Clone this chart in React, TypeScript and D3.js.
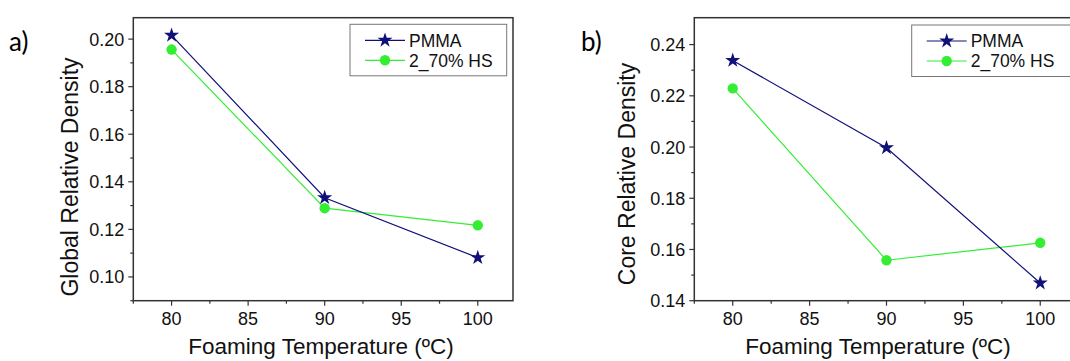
import React from "react";
import * as d3 from "d3";

const temperatures = [80, 90, 100];
const globalPMMA = [0.2016, 0.1333, 0.1081];
const globalHS = [0.1956, 0.1289, 0.1217];
const corePMMA = [0.2338, 0.1997, 0.1469];
const coreHS = [0.2229, 0.1558, 0.1626];

const xMajorTicks = [80, 85, 90, 95, 100];
const xMinorTicks = [77.5, 82.5, 87.5, 92.5, 97.5];
const globalMajorTicks = [0.1, 0.12, 0.14, 0.16, 0.18, 0.2];
const globalMinorTicks = [0.09, 0.11, 0.13, 0.15, 0.17, 0.19];
const coreMajorTicks = [0.14, 0.16, 0.18, 0.2, 0.22, 0.24];
const coreMinorTicks = [0.15, 0.17, 0.19, 0.21, 0.23];

const seriesNames = ["PMMA", "2_70% HS"];
const xTitle = "Foaming Temperature (\u00BAC)";

const NAVY = "#10107a";
const GREEN = "#33ee33";
const FONT = "'Liberation Sans', Arial, sans-serif";

type PanelProps = {
  left: number;
  right: number;
  top: number;
  bottom: number;
  xDomain: [number, number];
  yDomain: [number, number];
  yMajor: number[];
  yMinor: number[];
  pmma: number[];
  hs: number[];
  yTitle: string;
  yTitleX: number;
  yTitleY: number;
  xTitleX: number;
  label: string;
  labelX: number;
  legendX: number;
  legendW: number;
  legendY: number;
};

function Panel(p: PanelProps) {
  const x = d3.scaleLinear().domain(p.xDomain).range([p.left, p.right]);
  const y = d3.scaleLinear().domain(p.yDomain).range([p.bottom, p.top]);
  const line = d3
    .line<number>()
    .x((_, i) => x(temperatures[i]))
    .y((d) => y(d));
  const star = d3.symbol().type(d3.symbolStar).size(70)() as string;
  const fmt = d3.format(".2f");
  const frameColor = "#333";
  const lx = p.legendX;
  const ly = p.legendY;
  return (
    <g>
      <text x={p.labelX} y={51} fontFamily="Lato, 'Open Sans', sans-serif" fontSize={26} fill="#000">
        {p.label}
      </text>
      {/* data */}
      <path d={line(p.hs) || ""} fill="none" stroke={GREEN} strokeWidth={1.2} />
      <path d={line(p.pmma) || ""} fill="none" stroke={NAVY} strokeWidth={1.2} />
      {p.hs.map((v, i) => (
        <circle key={"c" + i} cx={x(temperatures[i])} cy={y(v)} r={5.2} fill={GREEN} />
      ))}
      {p.pmma.map((v, i) => (
        <path key={"s" + i} d={star} transform={`translate(${x(temperatures[i])},${y(v)})`} fill={NAVY} />
      ))}
      {/* frame */}
      <rect x={p.left} y={p.top} width={p.right - p.left} height={p.bottom - p.top} fill="none" stroke={frameColor} strokeWidth={1.5} />
      {/* x ticks */}
      {xMajorTicks.map((t) => (
        <g key={"xm" + t}>
          <line x1={x(t)} x2={x(t)} y1={p.bottom} y2={p.bottom + 5} stroke={frameColor} strokeWidth={1.2} />
          <text x={x(t)} y={p.bottom + 24.5} textAnchor="middle" fontFamily={FONT} fontSize={18} fill="#111">
            {t}
          </text>
        </g>
      ))}
      {xMinorTicks
        .filter((t) => t >= p.xDomain[0] && t <= p.xDomain[1])
        .map((t) => (
          <line key={"xn" + t} x1={x(t)} x2={x(t)} y1={p.bottom} y2={p.bottom + 3} stroke={frameColor} strokeWidth={1.2} />
        ))}
      {/* y ticks */}
      {p.yMajor.map((t) => (
        <g key={"ym" + t}>
          <line x1={p.left - 5} x2={p.left} y1={y(t)} y2={y(t)} stroke={frameColor} strokeWidth={1.2} />
          <text x={p.left - 9} y={y(t)} dy="0.36em" textAnchor="end" fontFamily={FONT} fontSize={18} fill="#111">
            {fmt(t)}
          </text>
        </g>
      ))}
      {p.yMinor
        .filter((t) => t >= p.yDomain[0] && t <= p.yDomain[1])
        .map((t) => (
          <line key={"yn" + t} x1={p.left - 3} x2={p.left} y1={y(t)} y2={y(t)} stroke={frameColor} strokeWidth={1.2} />
        ))}
      {/* titles */}
      <text x={p.xTitleX} y={354} textAnchor="middle" fontFamily={FONT} fontSize={22.5} fill="#111">
        {xTitle}
      </text>
      <text
        transform={`translate(${p.yTitleX},${p.yTitleY}) rotate(-90)`}
        textAnchor="middle"
        fontFamily={FONT}
        fontSize={23}
        fill="#111"
      >
        {p.yTitle}
      </text>
      {/* legend */}
      <rect x={lx} y={ly} width={p.legendW} height={51.5} fill="#fff" stroke="#777" strokeWidth={1} />
      <line x1={lx + 15} x2={lx + 55} y1={ly + 16} y2={ly + 16} stroke={NAVY} strokeWidth={1.2} />
      <path d={star} transform={`translate(${lx + 35},${ly + 16})`} fill={NAVY} />
      <text x={lx + 59} y={ly + 16} dy="0.36em" fontFamily={FONT} fontSize={17.5} fill="#111">
        {seriesNames[0]}
      </text>
      <line x1={lx + 15} x2={lx + 55} y1={ly + 36} y2={ly + 36} stroke={GREEN} strokeWidth={1.2} />
      <circle cx={lx + 35} cy={ly + 36} r={5.2} fill={GREEN} />
      <text x={lx + 59} y={ly + 36} dy="0.36em" fontFamily={FONT} fontSize={17.5} fill="#111">
        {seriesNames[1]}
      </text>
    </g>
  );
}

export default function App() {
  return (
    <svg
      width={1070}
      height={361}
      style={{ position: "absolute", left: 0, top: 0, background: "#fff" }}
    >
      <rect x={0} y={0} width={1070} height={361} fill="#fff" />
      <Panel
        left={133.3}
        right={513}
        top={17.7}
        bottom={300.7}
        xDomain={[77.5, 102.3]}
        yDomain={[0.09, 0.209]}
        yMajor={globalMajorTicks}
        yMinor={globalMinorTicks}
        pmma={globalPMMA}
        hs={globalHS}
        yTitle="Global Relative Density"
        yTitleX={78}
        yTitleY={177}
        xTitleX={321}
        label="a)"
        labelX={9}
        legendX={350}
        legendW={156.7}
        legendY={24.3}
      />
      <Panel
        left={694.3}
        right={1075.6}
        top={17.7}
        bottom={300.7}
        xDomain={[77.5, 102.3]}
        yDomain={[0.14, 0.2505]}
        yMajor={coreMajorTicks}
        yMinor={coreMinorTicks}
        pmma={corePMMA}
        hs={coreHS}
        yTitle="Core Relative Density"
        yTitleX={635}
        yTitleY={174}
        xTitleX={878}
        label="b)"
        labelX={581}
        legendX={911.7}
        legendW={170}
        legendY={25}
      />
    </svg>
  );
}
